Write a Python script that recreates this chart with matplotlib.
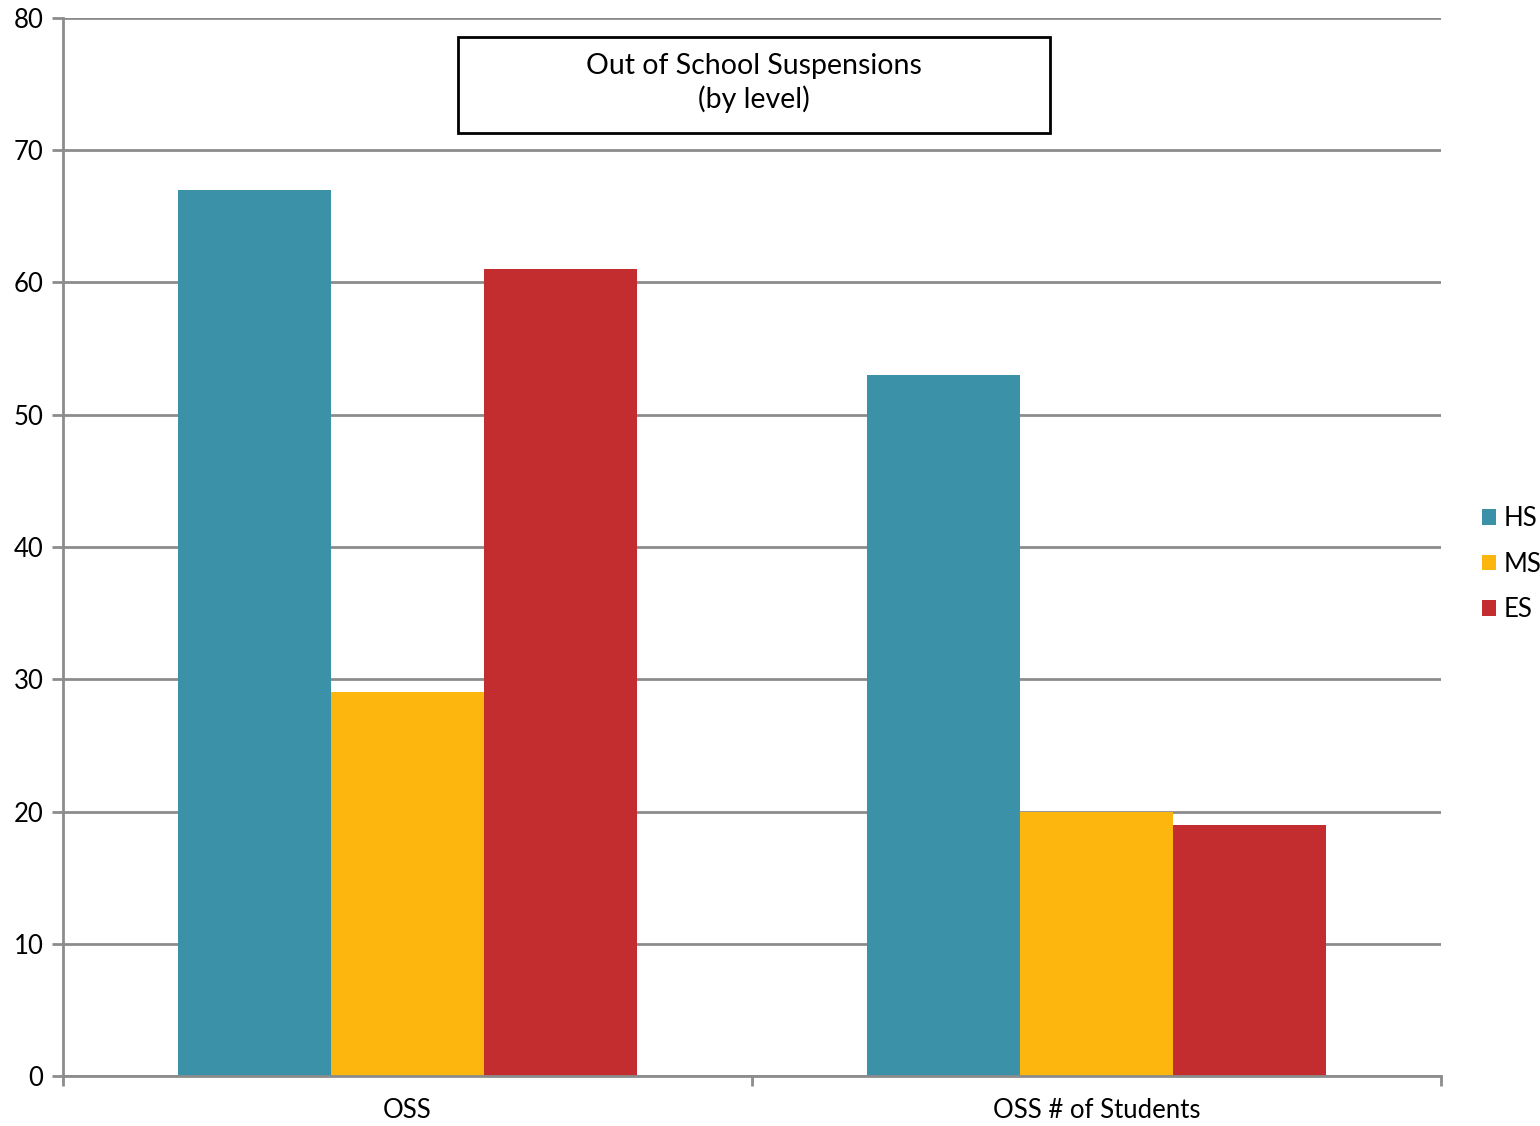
import matplotlib
matplotlib.use("Agg")
import matplotlib.pyplot as plt
import numpy as np
from matplotlib.patches import Rectangle

# data
categories = ["OSS", "OSS # of Students"]
hs = [67, 53]
ms = [29, 20]
es = [61, 19]
series_names = ["HS", "MS", "ES"]
colors = ["#3A91A8", "#FDB60E", "#C32D2F"]

plt.rcParams['font.family'] = ['Lato', 'DejaVu Sans']
grid_col = "#8c8c8c"

fig = plt.figure(figsize=(15.4, 11.26), dpi=100)
ax = fig.add_axes([63/1540, 50/1126, (1441-63)/1540, (1076-18)/1126])

x = np.arange(len(categories))
w = 153/689
for k, (vals, name, c) in enumerate(zip([hs, ms, es], series_names, colors)):
    ax.bar(x + (k-1)*w, vals, width=w, color=c, label=name, zorder=3)

ax.set_xlim(-0.5, 1.5)
ax.set_ylim(0, 80)
ax.set_yticks(range(0, 81, 10))
ax.yaxis.grid(True, color=grid_col, linewidth=2, zorder=0)
ax.set_xticks(x)
ax.set_xticklabels(categories, fontsize=18.5)
ax.set_xticks([-0.5, 0.5, 1.5], minor=True)
ax.tick_params(axis='x', which='major', length=0, pad=16)
ax.tick_params(axis='x', which='minor', length=7, width=2, color=grid_col, direction='out')
ax.tick_params(axis='y', length=8, width=2, color=grid_col, labelsize=18.5, pad=6)

for s in ['top', 'right']:
    ax.spines[s].set_visible(False)
for s in ['left', 'bottom']:
    ax.spines[s].set_color(grid_col)
    ax.spines[s].set_linewidth(2)
    ax.spines[s].set_zorder(4)

# title box
fig.patches.append(Rectangle((458/1540, 1-133/1126), 592/1540, 96/1126,
                             transform=fig.transFigure, fill=False,
                             edgecolor='black', linewidth=2))
fig.text(754/1540, 1-83/1126, "Out of School Suspensions\n(by level)",
         ha='center', va='center', fontsize=20.5, linespacing=1.25)

ax.legend(loc='center left', bbox_to_anchor=(1482/1540, 1-564/1126),
          bbox_transform=fig.transFigure, frameon=False, fontsize=18.5,
          handlelength=0.55, handleheight=0.55, handletextpad=0.3,
          labelspacing=0.8, borderaxespad=0, borderpad=0)

fig.savefig("out.png", dpi=100)
